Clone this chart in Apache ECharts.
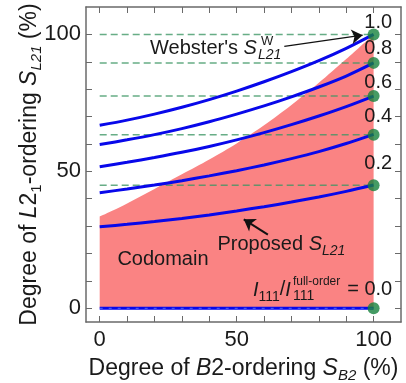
<!DOCTYPE html>
<html><head><meta charset="utf-8">
<script src="https://cdn.jsdelivr.net/npm/echarts@6/dist/echarts.min.js"></script>
<style>html,body{margin:0;padding:0;background:#fff}#c{width:406px;height:383px}</style>
</head><body><div id="c"></div>
<script>
// ---- data ----
const xs = [0, 10, 20, 30, 40, 50, 60, 70, 80, 90, 100];
const curve10 = [66.8, 68.7, 70.9, 73.4, 76.2, 79.3, 82.7, 86.4, 90.4, 94.9, 100];
const curve08 = [59.8, 61.5, 63.4, 65.6, 68.1, 70.9, 73.9, 77.2, 80.8, 84.8, 89.6];
const curve06 = [51.7, 53.3, 55.05, 56.95, 59.1, 61.5, 64.15, 67.05, 70.2, 73.65, 77.5];
const curve04 = [42.2, 43.55, 45.0, 46.6, 48.35, 50.25, 52.35, 54.65, 57.2, 60.15, 63.5];
const curve02 = [29.8, 30.65, 31.65, 32.8, 34.1, 35.55, 37.1, 38.8, 40.65, 42.7, 45.0];
const curve00 = [0, 0, 0, 0, 0, 0, 0, 0, 0, 0, 0];
const codomainX = [0, 5, 10, 20, 30, 40, 50, 60, 70, 80, 90, 100];
const codomainY = [33.5, 35.8, 38.3, 43.6, 48.9, 54.3, 60.2, 66.8, 74.2, 82.3, 91.0, 100];
const websterValues = [100, 89.6, 77.5, 63.4, 44.9, 0];
const ratioLabels = ['1.0', '0.8', '0.6', '0.4', '0.2'];
const xTickValues = [0, 10, 20, 30, 40, 50, 60, 70, 80, 90, 100];
const yTickValues = [0, 10, 20, 30, 40, 50, 60, 70, 80, 90, 100];
const tickLabelValues = [0, 50, 100];

// ---- annotation layout (data coordinates) ----
const ratioLabelPos = [[101.7, 104.5], [101.7, 94.8], [101.7, 82.4], [101.7, 69.9], [101.7, 52.7]];
const codomainPos = [23.1, 18];
const proposedPos = [43, 23.3];
const websterPos = [57.4, 94.7];
const intensityPos = [69.8, 6.7];
const zeroLabelPos = [106.8, 6.7];
const websterArrow = [[67.4, 95.6], [96.0, 99.7]];
const proposedArrow = [[61.4, 26.9], [52.6, 32.5]];

// ---- styles ----
const FONT = "'Liberation Sans', Arial, Helvetica, sans-serif";
const TXT = '#1a1a1a';
const AX = '#6a6a6a';
const BLUE = '#0808ea';
const DASH = 'rgba(60,150,100,0.78)';
const PINK = '#fa8383';
const GREEN = '#16823d';

function tokA(size, italic, lh, pad) {
  const t = {fontSize: size, fontFamily: FONT, fontStyle: italic ? 'italic' : 'normal', color: TXT, lineHeight: lh};
  if (pad) t.padding = pad;
  return t;
}
const axisNameStyle = {
  fontSize: 23, fontFamily: FONT, color: TXT, lineHeight: 27,
  rich: {
    i: tokA(23, true, 27),
    sub: tokA(15, false, 13, [14, 0, 0, 0]),
    isub: tokA(15, true, 13, [14, 0, 0, 0])
  }
};

function mkAxisX(pos, labels, name) {
  const a = {
    type: 'value', min: -5, max: 110, position: pos,
    axisLine: {show: true, onZero: false, lineStyle: {color: AX, width: 1.5}},
    axisTick: {show: true, inside: true, length: 6, customValues: xTickValues, lineStyle: {color: AX, width: 1}},
    axisLabel: labels ? {show: true, customValues: tickLabelValues, margin: 7, fontSize: 22, fontFamily: FONT, color: TXT} : {show: false},
    splitLine: {show: false}
  };
  if (name) {
    a.name = name; a.nameLocation = 'middle'; a.nameGap = 33; a.nameMoveOverlap = false; a.nameTextStyle = axisNameStyle;
  }
  return a;
}
function mkAxisY(pos, labels, name) {
  const a = {
    type: 'value', min: -5, max: 110, position: pos,
    axisLine: {show: true, onZero: false, lineStyle: {color: AX, width: 1.5}},
    axisTick: {show: true, inside: true, length: 6, customValues: yTickValues, lineStyle: {color: AX, width: 1}},
    axisLabel: labels ? {show: true, customValues: tickLabelValues, margin: 5, fontSize: 22, fontFamily: FONT, color: TXT} : {show: false},
    splitLine: {show: false}
  };
  if (name) {
    a.name = name; a.nameLocation = 'middle'; a.nameGap = 43; a.nameRotate = 90; a.nameMoveOverlap = false; a.nameTextStyle = axisNameStyle;
  }
  return a;
}

const curves = [curve10, curve08, curve06, curve04, curve02, curve00];
const series = [];
series.push({
  type: 'line', name: 'codomain', data: codomainX.map((x, i) => [x, codomainY[i]]),
  symbol: 'none', smooth: 0.3, lineStyle: {width: 0}, silent: true,
  areaStyle: {color: PINK, opacity: 1, origin: 0}, z: 1
});
websterValues.forEach((v) => {
  if (v === 0) return;
  series.push({
    type: 'line', data: [[xs[0], v], [xs[xs.length - 1], v]], symbol: 'none', silent: true,
    lineStyle: {color: DASH, width: 1.5, type: [7, 4]}, z: 2
  });
});
curves.forEach(c => {
  series.push({
    type: 'line', data: xs.map((x, i) => [x, c[i]]), symbol: 'none', smooth: 0.3, silent: true,
    lineStyle: {color: BLUE, width: 3}, z: 3
  });
});
series.push({
  type: 'line', data: [[xs[0], 0], [xs[xs.length - 1], 0]], symbol: 'none', silent: true,
  lineStyle: {color: 'rgba(110,150,255,0.7)', width: 1, type: [3, 6]}, z: 4
});
series.push({
  type: 'scatter', data: websterValues.map(v => [xs[xs.length - 1], v]), symbolSize: 12, silent: true,
  itemStyle: {color: GREEN}, z: 6,
  markLine: {
    silent: true, animation: false, symbol: ['none', 'arrow'], symbolSize: 11,
    label: {show: false},
    data: [
      [{coord: websterArrow[0], lineStyle: {color: '#111', width: 1.3, type: 'solid'}}, {coord: websterArrow[1]}],
      [{coord: proposedArrow[0], lineStyle: {color: '#111', width: 2, type: 'solid'}}, {coord: proposedArrow[1]}]
    ]
  }
});

const option = {
  animation: false,
  backgroundColor: '#fff',
  grid: {left: 86, right: 5, top: 7, bottom: 61, outerBoundsMode: 'none'},
  xAxis: [
    mkAxisX('bottom', true, 'Degree of {i|B}2-ordering {i|S}{isub|B2} (%)'),
    mkAxisX('top', false)
  ],
  yAxis: [
    mkAxisY('left', true, 'Degree of {i|L}2{sub|1}-ordering {i|S}{isub|L21} (%)'),
    mkAxisY('right', false)
  ],
  series: series
};

const chart = echarts.init(document.getElementById('c'));
chart.setOption(option);

// ---- annotations as real text ----
const P = (p) => chart.convertToPixel({xAxisIndex: 0, yAxisIndex: 0}, p);
function tokG(size, italic, lh, pad) {
  const t = {fontSize: size, fontFamily: FONT, fontStyle: italic ? 'italic' : 'normal', fill: TXT, lineHeight: lh};
  if (pad) t.padding = pad;
  return t;
}
const richG = {
  n: tokG(20, false, 24),
  i: tokG(20, true, 24),
  sub: tokG(14, false, 10, [14, 0, 0, 0]),
  isub: tokG(14, true, 10, [14, 0, 0, 0])
};
function txt(pt, text, align, size, extra) {
  return Object.assign({
    type: 'text', x: pt[0], y: pt[1], silent: true, z: 100,
    style: {text: text, fontSize: size || 20, fontFamily: FONT, fill: TXT, align: align || 'center', verticalAlign: 'middle', rich: richG}
  }, extra || {});
}
const g = [];
ratioLabels.forEach((t, i) => g.push(txt(P(ratioLabelPos[i]), t, 'center', 20)));
g.push(txt(P(codomainPos), 'Codomain', 'center', 20));
g.push(txt(P(proposedPos), '{n|Proposed }{i|S}{isub|L21}', 'left', 20));
const wp = P(websterPos);
g.push(txt(wp, "{n|Webster's }{i|S}", 'right', 20));
g.push(txt([wp[0] + 4, wp[1] - 7], 'W', 'left', 13));
g.push({type: 'text', x: wp[0] + 1, y: wp[1] + 6, silent: true, z: 100,
  style: {text: 'L21', fontSize: 14, fontStyle: 'italic', fontFamily: FONT, fill: TXT, align: 'left', verticalAlign: 'middle'}});
const ip = P(intensityPos);
g.push(txt(ip, '{i|I}{sub|111}{n|/}{i|I}', 'right', 20));
g.push(txt([ip[0] + 2, ip[1] - 8], 'full-order', 'left', 12));
g.push(txt([ip[0] + 2, ip[1] + 6], '111', 'left', 14));
g.push(txt(P(zeroLabelPos), '= 0.0', 'right', 20));
chart.setOption({graphic: g});
</script>
</body></html>
